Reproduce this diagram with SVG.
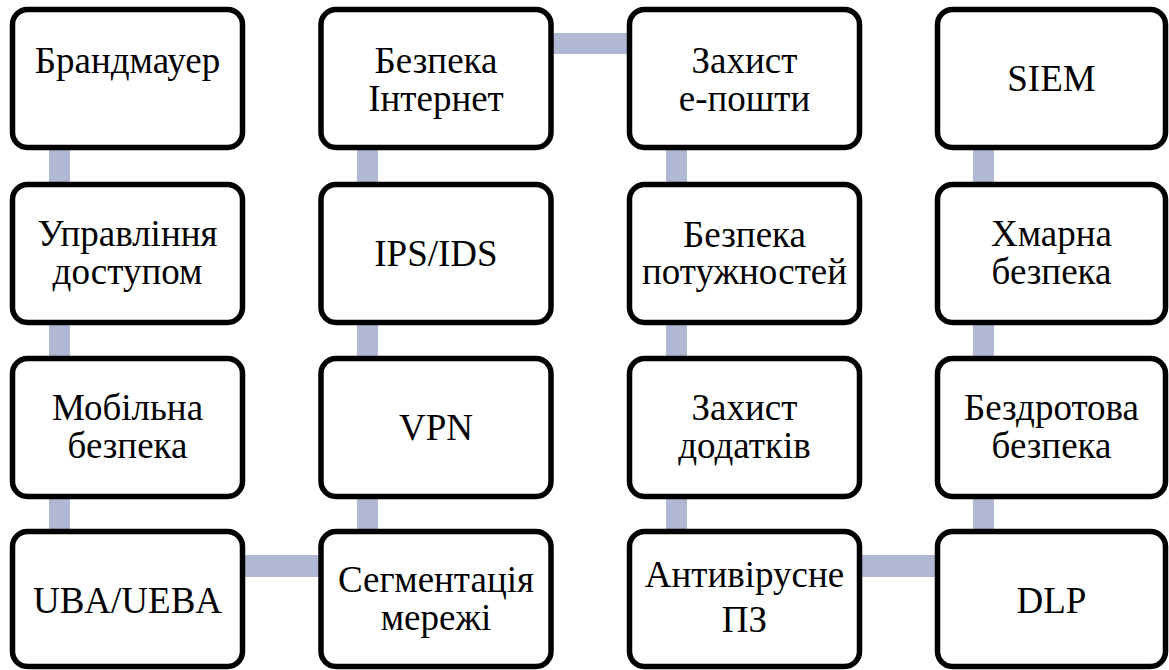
<svg xmlns="http://www.w3.org/2000/svg" width="1169" height="670" viewBox="0 0 1169 670">
  <style>
    .box { fill: #ffffff; stroke: #000000; stroke-width: 5.5; }
    .link { fill: #b0b8d3; }
    .lbl { font-size: 37px; fill: #000000; text-anchor: middle; }
  </style>
  <rect width="1169" height="670" fill="#ffffff"/>

  <!-- connectors: a snake path through the 4x4 grid -->
  <g id="connectors">
    <!-- column 1 -->
    <rect class="link" x="49" y="140" width="21" height="50"/>
    <rect class="link" x="49" y="315" width="21" height="50"/>
    <rect class="link" x="49" y="489" width="21" height="50"/>
    <!-- row 4: column 1 to column 2 -->
    <rect class="link" x="235" y="555" width="95" height="22"/>
    <!-- column 2 -->
    <rect class="link" x="357" y="140" width="21" height="50"/>
    <rect class="link" x="357" y="315" width="21" height="50"/>
    <rect class="link" x="357" y="489" width="21" height="50"/>
    <!-- row 1: column 2 to column 3 -->
    <rect class="link" x="543" y="33" width="95" height="21"/>
    <!-- column 3 -->
    <rect class="link" x="666" y="140" width="21" height="50"/>
    <rect class="link" x="666" y="315" width="21" height="50"/>
    <rect class="link" x="666" y="489" width="21" height="50"/>
    <!-- row 4: column 3 to column 4 -->
    <rect class="link" x="852" y="555" width="95" height="22"/>
    <!-- column 4 -->
    <rect class="link" x="973" y="140" width="21" height="50"/>
    <rect class="link" x="973" y="315" width="21" height="50"/>
    <rect class="link" x="973" y="489" width="21" height="50"/>
  </g>

  <g font-family="'Liberation Serif', 'DejaVu Serif', serif">
  <!-- column 1 -->
  <g id="firewall">
    <rect class="box" x="12.5" y="9.5" width="230" height="138" rx="15"/>
    <text class="lbl" x="127.5" y="72.5">Брандмауер</text>
  </g>
  <g id="access-control">
    <rect class="box" x="12.5" y="184.5" width="230" height="138" rx="15"/>
    <text class="lbl" x="127.5" y="245.5">Управління</text>
    <text class="lbl" x="127.5" y="284">доступом</text>
  </g>
  <g id="mobile-security">
    <rect class="box" x="12.5" y="358.5" width="230" height="138" rx="15"/>
    <text class="lbl" x="127.5" y="419.5">Мобільна</text>
    <text class="lbl" x="127.5" y="458">безпека</text>
  </g>
  <g id="uba-ueba">
    <rect class="box" x="12.5" y="531.5" width="230" height="135" rx="15"/>
    <text class="lbl" x="127.5" y="613">UBA/UEBA</text>
  </g>

  <!-- column 2 -->
  <g id="web-security">
    <rect class="box" x="321" y="9.5" width="230" height="138" rx="15"/>
    <text class="lbl" x="436" y="73">Безпека</text>
    <text class="lbl" x="436" y="111">Інтернет</text>
  </g>
  <g id="ips-ids">
    <rect class="box" x="321" y="184.5" width="230" height="138" rx="15"/>
    <text class="lbl" x="436" y="266">IPS/IDS</text>
  </g>
  <g id="vpn">
    <rect class="box" x="321" y="358.5" width="230" height="138" rx="15"/>
    <text class="lbl" x="436" y="440">VPN</text>
  </g>
  <g id="network-segmentation">
    <rect class="box" x="321" y="531.5" width="230" height="135" rx="15"/>
    <text class="lbl" x="436" y="591.5">Сегментація</text>
    <text class="lbl" x="436" y="630">мережі</text>
  </g>

  <!-- column 3 -->
  <g id="email-security">
    <rect class="box" x="629.5" y="9.5" width="230" height="138" rx="15"/>
    <text class="lbl" x="744.5" y="73">Захист</text>
    <text class="lbl" x="744.5" y="111">е-пошти</text>
  </g>
  <g id="capacity-security">
    <rect class="box" x="629.5" y="184.5" width="230" height="138" rx="15"/>
    <text class="lbl" x="744.5" y="246.5">Безпека</text>
    <text class="lbl" x="744.5" y="283.5">потужностей</text>
  </g>
  <g id="app-security">
    <rect class="box" x="629.5" y="358.5" width="230" height="138" rx="15"/>
    <text class="lbl" x="744.5" y="419.5">Захист</text>
    <text class="lbl" x="744.5" y="458">додатків</text>
  </g>
  <g id="antivirus">
    <rect class="box" x="629.5" y="531.5" width="230" height="135" rx="15"/>
    <text class="lbl" x="744.5" y="587">Антивірусне</text>
    <text class="lbl" x="744.5" y="631.5">ПЗ</text>
  </g>

  <!-- column 4 -->
  <g id="siem">
    <rect class="box" x="937.5" y="9.5" width="228" height="138" rx="15"/>
    <text class="lbl" x="1051.5" y="90.5">SIEM</text>
  </g>
  <g id="cloud-security">
    <rect class="box" x="937.5" y="184.5" width="228" height="138" rx="15"/>
    <text class="lbl" x="1051.5" y="246">Хмарна</text>
    <text class="lbl" x="1051.5" y="284">безпека</text>
  </g>
  <g id="wireless-security">
    <rect class="box" x="937.5" y="358.5" width="228" height="138" rx="15"/>
    <text class="lbl" x="1051.5" y="419.5">Бездротова</text>
    <text class="lbl" x="1051.5" y="458">безпека</text>
  </g>
  <g id="dlp">
    <rect class="box" x="937.5" y="531.5" width="228" height="135" rx="15"/>
    <text class="lbl" x="1051.5" y="613">DLP</text>
  </g>
  </g>
</svg>
